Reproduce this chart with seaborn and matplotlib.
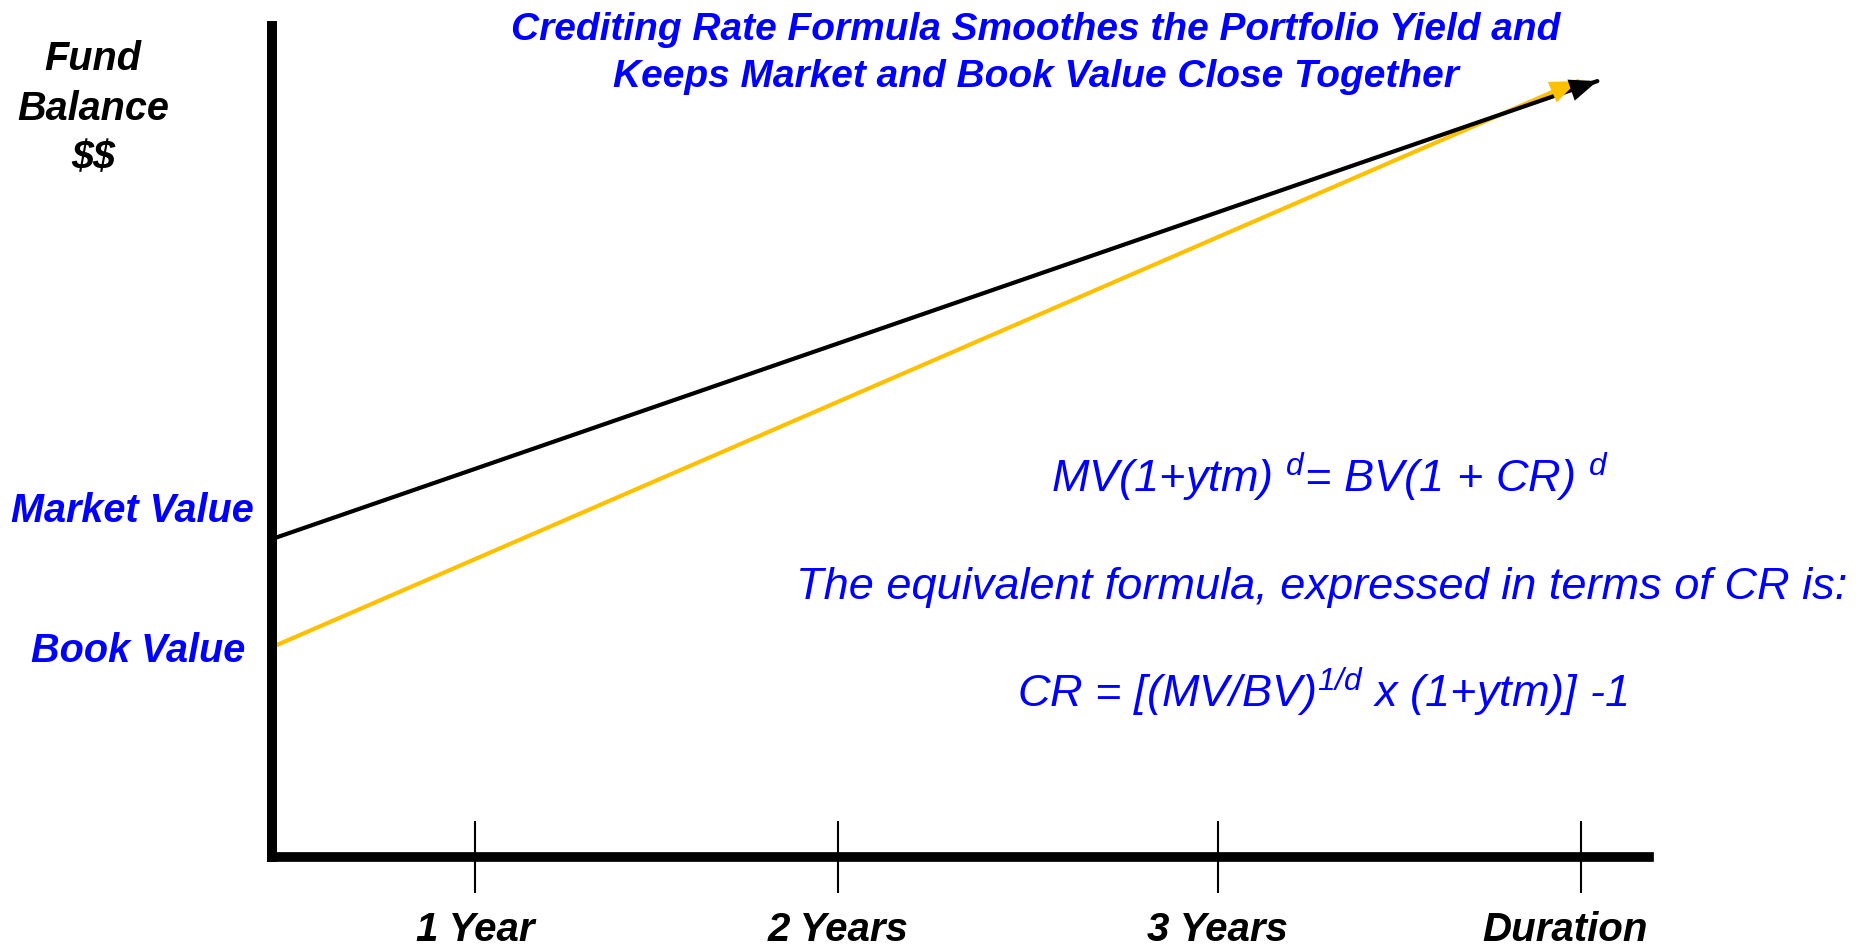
import matplotlib
matplotlib.use("Agg")
import matplotlib.pyplot as plt
from matplotlib import font_manager as fm
from matplotlib.transforms import ScaledTranslation
import seaborn as sns
import pandas as pd

# ---------------- data ----------------
time_points = [0.0, 4.05]          # x position (Duration = 4)
market_value = [100, 244]          # fund balance of market value line
book_time = [0.0, 3.99]
book_value = [66, 244]             # fund balance of book value line
tick_positions = [0.62, 1.73, 2.89, 4.0]
tick_labels = ["1 Year", "2 Years", "3 Years", "Duration"]

title_text = ("Crediting Rate Formula Smoothes the Portfolio Yield and\n"
              "Keeps Market and Book Value Close Together")
ylabel_text = "Fund\nBalance\n\\$\\$"

sns.set_theme(style="white")
names = {f.name for f in fm.fontManager.ttflist}
NARROW = "Liberation Sans Narrow" if "Liberation Sans Narrow" in names else "Liberation Sans"
plt.rcParams["font.family"] = ["Liberation Sans", "DejaVu Sans"]
plt.rcParams["mathtext.fontset"] = "custom"
plt.rcParams["mathtext.rm"] = f"{NARROW}:italic"
plt.rcParams["mathtext.it"] = f"{NARROW}:italic"

BLUE = "#0000FF"
GOLD = "#FFC000"

df = pd.concat([
    pd.DataFrame({"time": time_points, "value": market_value, "series": "Market Value"}),
    pd.DataFrame({"time": book_time, "value": book_value, "series": "Book Value"}),
])

fig = plt.figure(figsize=(18.71, 9.46), dpi=100)
fig.patch.set_facecolor("white")
ax = fig.add_axes([272 / 1871, 1 - 857 / 946, (1649 - 272) / 1871, (857 - 26) / 946])
ax.set_facecolor("white")

sns.lineplot(data=df, x="time", y="value", hue="series",
             palette={"Market Value": "black", "Book Value": GOLD},
             hue_order=["Book Value", "Market Value"],
             linewidth=3.0, legend=False, ax=ax, zorder=3)

# arrow heads
for xs, ys, c in [(book_time, book_value, GOLD), (time_points, market_value, "black")]:
    ax.annotate("", xy=(xs[-1], ys[-1]), xytext=(xs[-2], ys[-2]),
                arrowprops=dict(arrowstyle="-|>,head_length=0.5,head_width=0.2",
                                color=c, lw=0, shrinkA=0, shrinkB=0,
                                mutation_scale=40), zorder=4)

ax.set_xlim(0, (1649 - 272) / 327.25)
ax.set_ylim(0, (857 - 26) / 3.18)
ax.set_xlabel("")
ax.set_ylabel("")
ax.set_yticks([])
ax.set_xticks(tick_positions)
ax.set_xticklabels(tick_labels, fontfamily=NARROW, fontweight="bold",
                   fontstyle="italic", fontsize=29, color="black")
ax.tick_params(axis="x", direction="inout", length=52, width=1.5,
               color="black", pad=13, bottom=True)
last = ax.get_xticklabels()[-1]
last.set_transform(last.get_transform() + ScaledTranslation(-0.16, 0, fig.dpi_scale_trans))
for s in ["top", "right"]:
    ax.spines[s].set_visible(False)
ax.spines["left"].set_linewidth(7.2)
ax.spines["bottom"].set_linewidth(7.0)
ax.spines["left"].set_color("black")
ax.spines["bottom"].set_color("black")
ax.spines["left"].set_zorder(5)
ax.spines["bottom"].set_zorder(5)

# series labels on y axis
ax.annotate("Market Value", xy=(0, market_value[0]), xytext=(-18, 28),
            textcoords="offset pixels", ha="right", va="center",
            fontsize=28.5, fontweight="bold", fontstyle="italic", color=BLUE)
ax.annotate("Book Value", xy=(0, book_value[0]), xytext=(-27, -4),
            textcoords="offset pixels", ha="right", va="center",
            fontsize=28.5, fontweight="bold", fontstyle="italic", color=BLUE)

# y-axis title
fig.text(93 / 1871, 1 - 108.5 / 946, ylabel_text, ha="center", va="center",
         fontsize=28.5, fontweight="bold", fontstyle="italic", color="black",
         linespacing=1.38)

# chart title
fig.text(1036 / 1871, 1 - 53.5 / 946, title_text, ha="center", va="center",
         fontsize=28, fontweight="bold", fontstyle="italic", color=BLUE,
         fontfamily=NARROW, linespacing=1.36)

# formulas
fig.text(1330 / 1871, 1 - 477 / 946,
         r"MV(1+ytm) ${}^{d}$= BV(1 + CR) ${}^{d}$",
         ha="center", va="center", fontsize=32.5, fontstyle="italic",
         color=BLUE, fontfamily=NARROW)
fig.text(1322 / 1871, 1 - 587 / 946,
         "The equivalent formula, expressed in terms of CR is:",
         ha="center", va="center", fontsize=32.5, fontstyle="italic",
         color=BLUE, fontfamily=NARROW)
fig.text(1322 / 1871, 1 - 692 / 946,
         r"CR = [(MV/BV)${}^{1/d}$ x (1+ytm)] -1",
         ha="center", va="center", fontsize=32.5, fontstyle="italic",
         color=BLUE, fontfamily=NARROW)

fig.savefig("out.png", dpi=100, facecolor="white")
